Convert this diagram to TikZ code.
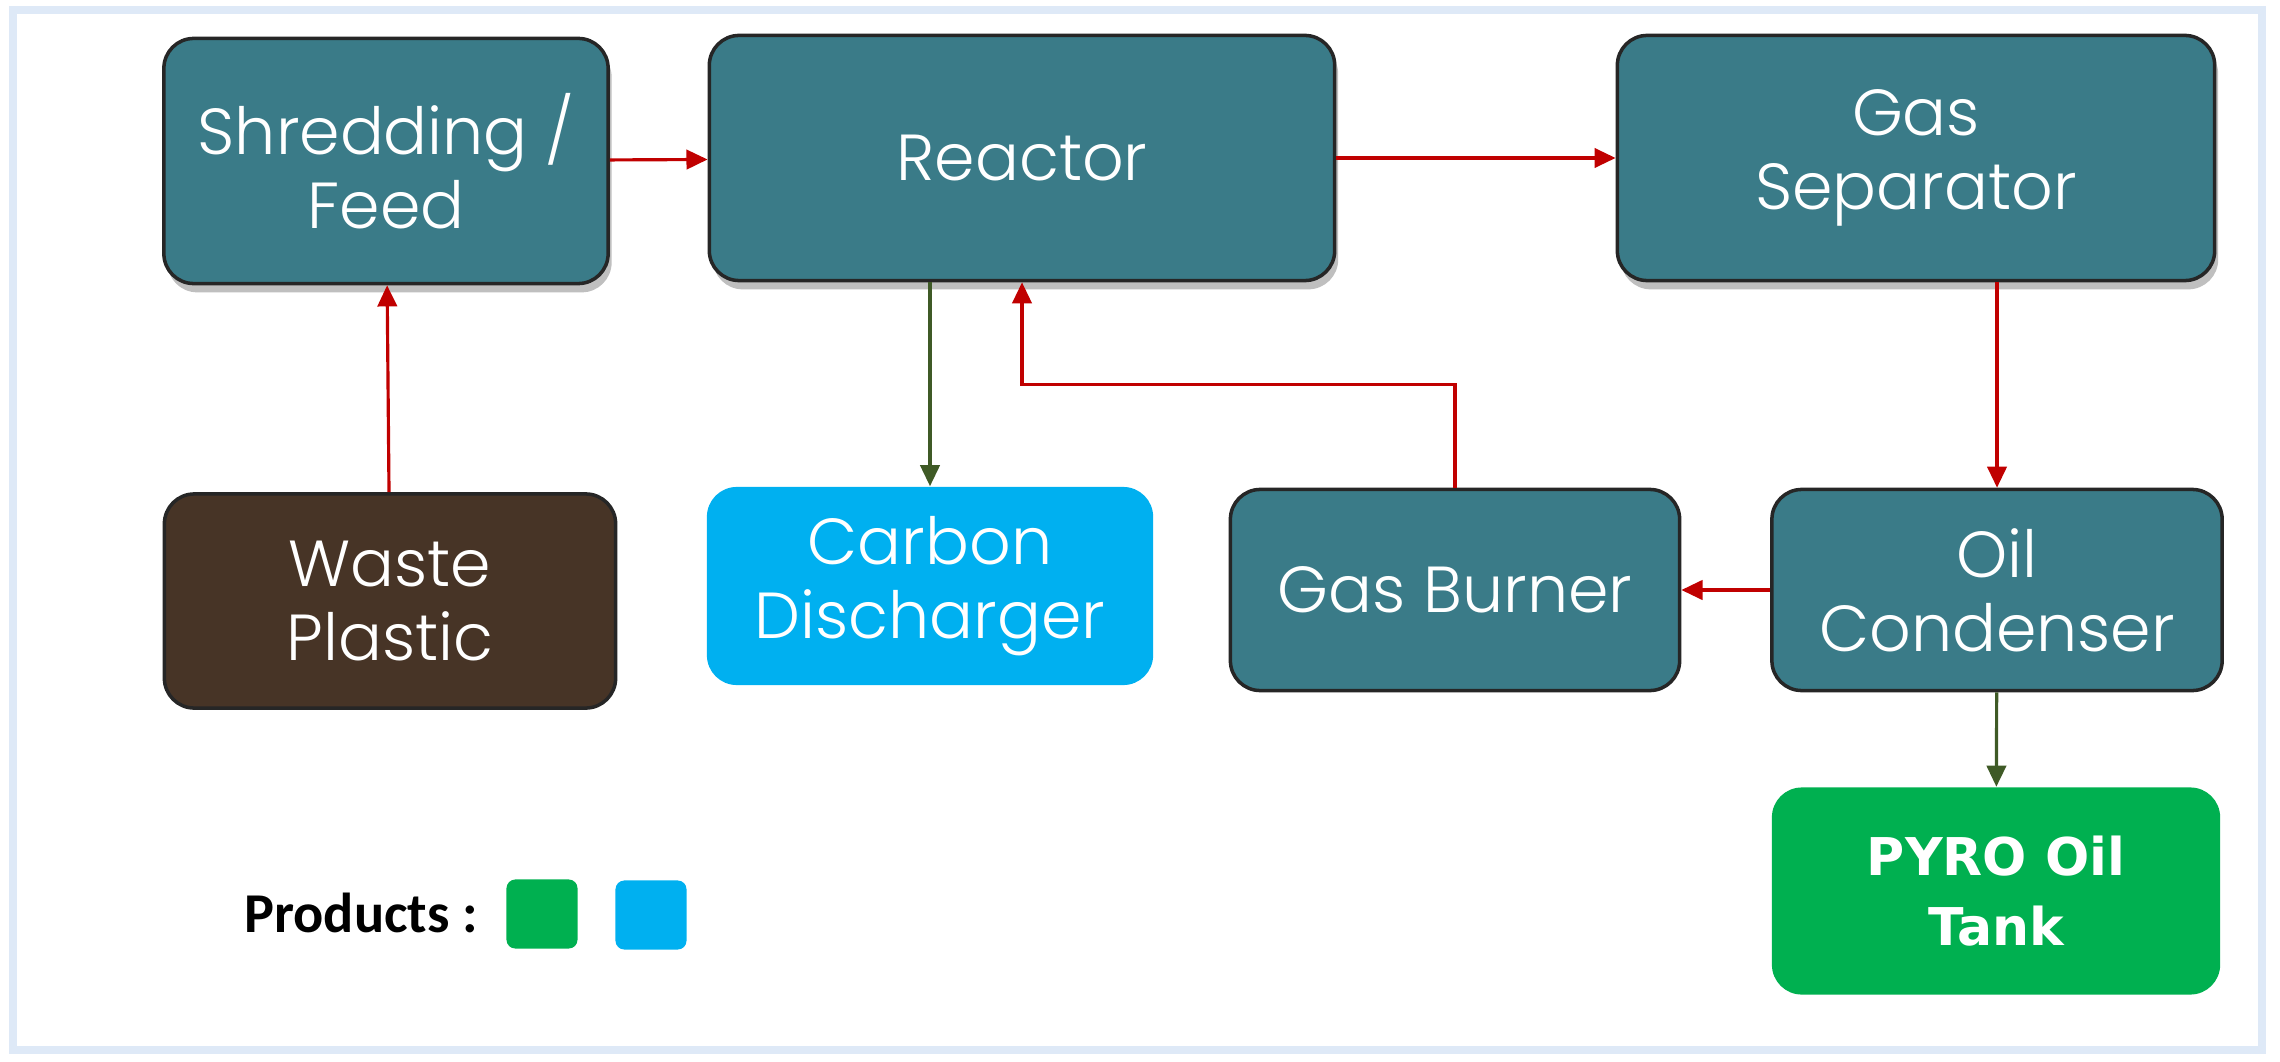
\documentclass[tikz,border=0pt]{standalone}
\usepackage{fontspec}
\newfontfamily\boxfont{Poppins Light}
\newfontfamily\tankfont{DejaVu Sans}
\newfontfamily\legendfont{Carlito}
\usepackage{xcolor}
\usepackage{tikz}
\usetikzlibrary{arrows.meta, positioning, shadows}
\definecolor{procteal}{RGB}{58,123,136}
\definecolor{wastebrown}{RGB}{71,52,38}
\definecolor{carbonblue}{RGB}{0,176,240}
\definecolor{oilgreen}{RGB}{0,176,80}
\definecolor{arrred}{RGB}{192,0,0}
\definecolor{arrgreen}{RGB}{63,90,38}
\definecolor{framecol}{RGB}{222,233,247}

\begin{document}
\begin{tikzpicture}[
  x=0.01cm, y=-0.01cm,
  unit/.style={rectangle, rounded corners=8.5pt, text=white, align=center,
               inner sep=0pt, font=\boxfont\fontsize{18.5}{21}\selectfont},
  proc/.style={unit, draw=black!85, line width=1pt, fill=procteal},
  procsh/.style={proc, drop shadow={shadow xshift=1pt, shadow yshift=-2.5pt,
               fill=black, opacity=0.25}},
  raw/.style={unit, draw=black!85, line width=1pt, fill=wastebrown},
  prod/.style={unit, fill=carbonblue},
  tankbox/.style={unit, fill=oilgreen, font=\tankfont\bfseries\fontsize{14.8}{20}\selectfont},
  swatch/.style={rectangle, rounded corners=2.5pt, minimum width=0.71cm, minimum height=0.69cm},
  ar/.style={-{Triangle[length=6pt,width=5.5pt]}, line width=0.9pt, draw=arrred},
  gar/.style={ar, draw=arrgreen}
]
  \useasboundingbox (0,0) rectangle (2280,1061);
  \draw[framecol, line width=2.5pt] (13,10) rectangle (2262,1050);

  % top row
  \node[procsh, minimum width=4.44cm, minimum height=2.45cm] (shred)   at (386,161)  {Shredding /\\Feed};
  \node[procsh, minimum width=6.25cm, minimum height=2.45cm] (reactor) at (1022,158) {Reactor};
  \node[procsh, minimum width=5.97cm, minimum height=2.45cm] (gassep)  at (1916,158) {Gas\\Separator};

  % second row
  \node[raw,  minimum width=4.51cm, minimum height=2.14cm] (waste)   at (390,601)  {Waste\\Plastic};
  \node[prod, minimum width=4.46cm, minimum height=1.98cm] (carbon)  at (930,586)  {Carbon\\Discharger};
  \node[proc, minimum width=4.49cm, minimum height=2.01cm] (burner)  at (1455,590) {Gas Burner};
  \node[proc, minimum width=4.50cm, minimum height=2.01cm] (oilcond) at (1997,590) {Oil\\Condenser};

  % product tank
  \node[tankbox, minimum width=4.48cm, minimum height=2.07cm] (tank) at (1996,891) {PYRO Oil\\Tank};

  % legend
  \node[anchor=west, font=\legendfont\bfseries\fontsize{16}{19}\selectfont] (prodlabel) at (232,913) {Products :};
  \node[swatch, fill=oilgreen]   (swgreen) at (542,914) {};
  \node[swatch, fill=carbonblue] (swblue)  at (651,915) {};

  % flows
  \draw[ar]  (waste) -- (shred);
  \draw[ar]  (shred) -- (reactor);
  \draw[ar]  (reactor) -- (gassep);
  \draw[gar] (reactor.south -| carbon.north) -- (carbon.north);
  \draw[ar]  (gassep.south -| oilcond.north) -- (oilcond.north);
  \draw[ar]  (oilcond) -- (burner);
  \draw[ar]  (burner.north) -- ++(0,-103) -| (reactor.south);
  \draw[gar] (oilcond) -- (tank);
\end{tikzpicture}
\end{document}
